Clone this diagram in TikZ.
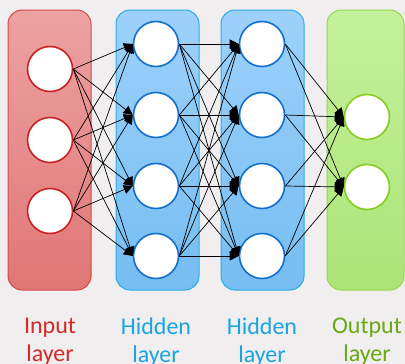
\documentclass[tikz,border=0pt]{standalone}
\usepackage{fontspec}
\setmainfont{Carlito}
\usetikzlibrary{arrows.meta}
\definecolor{bgc}{HTML}{F0EEEE}
\definecolor{inTop}{HTML}{EDA2A2}
\definecolor{inBot}{HTML}{E07676}
\definecolor{inLine}{HTML}{D84848}
\definecolor{inNode}{HTML}{C82222}
\definecolor{inText}{HTML}{D42A2A}
\definecolor{hdTop}{HTML}{9DD1FB}
\definecolor{hdBot}{HTML}{76BDF1}
\definecolor{hdLine}{HTML}{2AAEE6}
\definecolor{hdNode}{HTML}{1270CC}
\definecolor{hdText}{HTML}{1AA4E0}
\definecolor{ouTop}{HTML}{C4F19B}
\definecolor{ouBot}{HTML}{ACE476}
\definecolor{ouLine}{HTML}{98D650}
\definecolor{ouNode}{HTML}{84CC1E}
\definecolor{ouText}{HTML}{6AA814}
\tikzset{
  layerbox/.style={rounded corners=14pt, line width=1pt},
  neuron/.style={circle, fill=white, line width=1.6pt, minimum size=45pt, inner sep=0pt},
  link/.style={line width=0.7pt, black, -{Triangle[length=9pt,width=9pt]}},
  caption/.style={font=\fontsize{24}{28}\selectfont, align=center, text depth=0pt}
}
\begin{document}
\begin{tikzpicture}[x=1pt,y=-1pt]
  \fill[bgc] (0,0) rectangle (405,364);
  \useasboundingbox (0,0) rectangle (405,364);

  % layer panels
  \draw[layerbox, draw=inLine, top color=inTop, bottom color=inBot] (8,10) rectangle (91,290);
  \draw[layerbox, draw=hdLine, top color=hdTop, bottom color=hdBot] (116,10) rectangle (199,290);
  \draw[layerbox, draw=hdLine, top color=hdTop, bottom color=hdBot] (221,10) rectangle (304,290);
  \draw[layerbox, draw=ouLine, top color=ouTop, bottom color=ouBot] (327,10) rectangle (404,290);

  % neurons
  \foreach \i/\y in {1/69,2/140,3/211}
    \node[neuron, draw=inNode] (i\i) at (50,\y) {};
  \foreach \i/\y in {1/44,2/115,3/186,4/256} {
    \node[neuron, draw=hdNode] (a\i) at (156,\y) {};
    \node[neuron, draw=hdNode] (b\i) at (262,\y) {};
  }
  \foreach \i/\y in {1/117,2/187}
    \node[neuron, draw=ouNode] (o\i) at (367,\y) {};

  % connections: every link leaves a neuron's east side and enters the next one's west side
  \foreach \s in {1,2,3}
    \foreach \t in {1,2,3,4}
      \draw[link] (i\s.east) -- (a\t.west);
  \foreach \s in {1,2,3,4}
    \foreach \t in {1,2,3,4}
      \draw[link] (a\s.east) -- (b\t.west);
  \foreach \s in {1,2,3,4}
    \foreach \t in {1,2}
      \draw[link] (b\s.east) -- (o\t.west);

  % captions
  \node[caption, text=inText] (ci) at (50,340) {Input\\layer};
  \node[caption, text=hdText] (ca) at (156,340) {Hidden\\layer};
  \node[caption, text=hdText] (cb) at (262,340) {Hidden\\layer};
  \node[caption, text=ouText] (co) at (367,340) {Output\\layer};
\end{tikzpicture}
\end{document}
